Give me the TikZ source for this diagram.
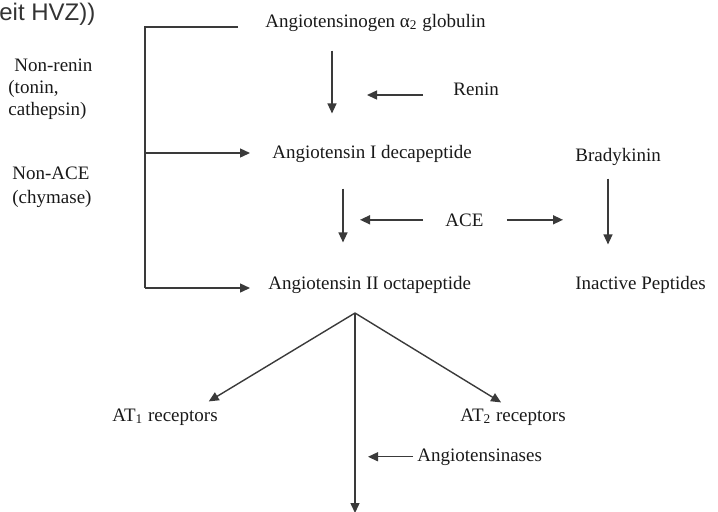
\documentclass[tikz,border=0pt]{standalone}
\usepackage{fontspec}
\setmainfont{Liberation Serif}
\newfontfamily\hdrfont{Liberation Sans}
\usepackage{xcolor}
\usetikzlibrary{arrows.meta, positioning, calc}
\definecolor{lineGray}{HTML}{3A3A3A}

\begin{document}
\begin{tikzpicture}[x=0.5pt, y=-0.5pt,
    lbl/.style={anchor=base west, inner sep=1pt, font=\fontsize{9.5}{11}\selectfont, text=black!90},
    side/.style={anchor=north west, inner sep=1pt, align=left, text=black!90},
    plain/.style={line width=0.7pt, lineGray},
    arr/.style={-{Triangle[length=5pt, width=4.5pt]}, line width=0.7pt, lineGray}
  ]
  \useasboundingbox (0,0) rectangle (718,511);

  \node[anchor=base west, inner sep=0pt, font=\hdrfont\fontsize{12}{14}\selectfont, text=black!80] (hdr) at (-1,20) {eit HVZ))};

  \node[lbl] (agen) at (263,27) {Angiotensinogen α\textsubscript{2} globulin};
  \node[lbl] (renin) at (451,95) {Renin};
  \node[lbl] (ang1) at (270,158) {Angiotensin I decapeptide};
  \node[lbl] (brady) at (573,161) {Bradykinin};
  \node[lbl] (ace) at (443,226) {ACE};
  \node[lbl] (ang2) at (266,289) {Angiotensin II octapeptide};
  \node[lbl] (inact) at (573,289) {Inactive Peptides};
  \node[lbl] (at1) at (110,421) {AT\textsubscript{1} receptors};
  \node[lbl] (at2) at (458,421) {AT\textsubscript{2} receptors};
  \node[lbl] (atase) at (415,461) {Angiotensinases};

  \node[side, font=\fontsize{9.5}{11}\selectfont] (nonrenin) at (6,57) {\hspace{3pt}Non-renin\\(tonin,\\cathepsin)};
  \node[side, font=\fontsize{9.5}{12}\selectfont] (nonace) at (10,165) {Non-ACE\\(chymase)};

  % columns and bracket
  \coordinate (c1) at (332,0);
  \coordinate (c2) at (343,0);
  \coordinate (c3) at (608,0);
  \coordinate (bm) at (145,153);
  \coordinate (bb) at (145,288);
  \coordinate (fork) at (355,313);
  \coordinate (bottom) at (355,513);

  \draw[plain, shorten <=12.5pt] (agen.base west) -| (bb);
  \draw[arr, shorten >=10pt] (bm) -- (bm -| ang1.west);
  \draw[arr, shorten >=8pt] (bb) -- (bb -| ang2.west);

  \draw[arr, shorten <=8.5pt, shorten >=14.5pt] (agen.south -| c1) -- (ang1.north -| c1);
  \draw[arr, shorten <=14pt, shorten >=17.5pt] (renin.base west) -- (renin.base west -| c1);

  \draw[arr, shorten <=12pt, shorten >=15.5pt] (ang1.south -| c2) -- (ang2.north -| c2);
  \draw[arr, shorten <=10pt, shorten >=8.5pt] (ace.west) -- (ace.west -| c2);
  \draw[arr, shorten <=10.5pt, shorten >=22.5pt] (ace.east) -- (ace.east -| c3);
  \draw[arr, shorten <=5.5pt, shorten >=14.5pt] (brady.south -| c3) -- (inact.north -| c3);

  \draw[arr, shorten >=4.5pt] (fork) -- ([xshift=18pt]at1.north);
  \draw[arr, shorten >=3.5pt] (fork) -- ([xshift=-3pt]at2.north);
  \draw[arr] (fork) -- (bottom);
  \draw[arr, shorten <=1pt, shorten >=6.5pt] (atase.west) -- (atase.west -| fork);
\end{tikzpicture}
\end{document}
